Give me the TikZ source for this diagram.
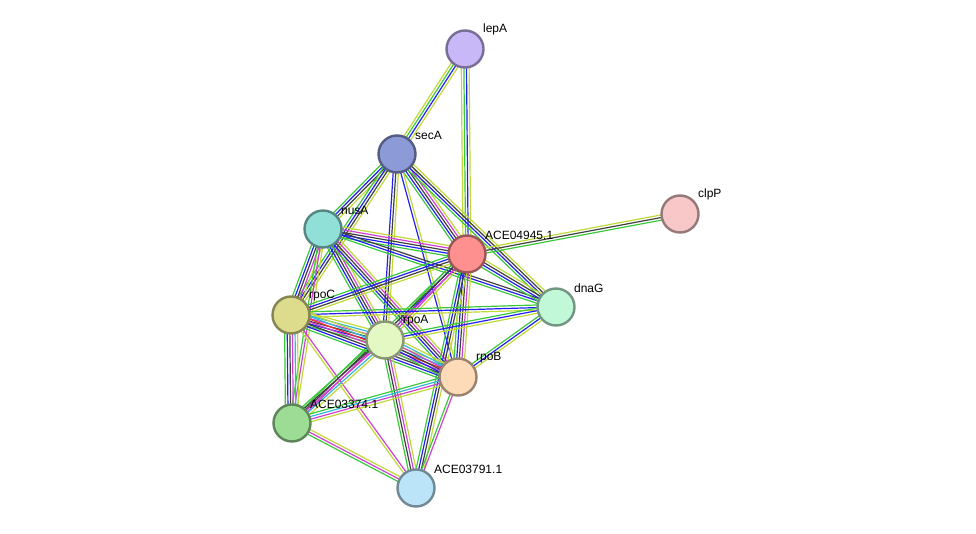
\documentclass[tikz,border=0pt]{standalone}
\usepackage{fontspec}
\setmainfont{Liberation Sans}
\usetikzlibrary{calc}
\definecolor{eG}{HTML}{3CC83C}
\definecolor{eB}{HTML}{2020F0}
\definecolor{eK}{HTML}{404040}
\definecolor{eM}{HTML}{D040D0}
\definecolor{eY}{HTML}{C0D838}
\definecolor{eC}{HTML}{30B8D8}
\definecolor{eR}{HTML}{F03030}
\tikzset{
  prot/.style={circle, minimum size=37pt, line width=2.4pt, draw=#1!60!black, fill=#1},
  lbl/.style={font=\fontsize{12}{14}\selectfont, anchor=south west, inner sep=1pt, xshift=3pt, yshift=-1pt}
}
% one edge = a bundle of parallel coloured lines
\newcommand\edge[3]{%
  \foreach \c [count=\n] in {#3}{\xdef\ncol{\n}}%
  \foreach \c [count=\i] in {#3}{%
    \pgfmathsetmacro\o{(\i-(\ncol+1)/2)*2.6}%
    \draw[e\c, line width=1.2pt] ($(#1)!\o pt!90:(#2)$) -- ($(#2)!\o pt!-90:(#1)$);
  }%
}
\begin{document}
\begin{tikzpicture}[x=1pt, y=-1pt]
    \useasboundingbox (0,0) rectangle (976,534);
    \coordinate (lepA) at (465,49);
    \coordinate (secA) at (397,154);
    \coordinate (nusA) at (323,229);
    \coordinate (ace45) at (467,254);
    \coordinate (clpP) at (680,214);
    \coordinate (dnaG) at (556,307);
    \coordinate (rpoC) at (291,315);
    \coordinate (rpoA) at (385,340);
    \coordinate (rpoB) at (458,377);
    \coordinate (ace74) at (292,423);
    \coordinate (ace91) at (416,488);
    \edge{lepA}{secA}{Y,G,B,Y}
    \edge{lepA}{ace45}{Y,G,B,Y}
    \edge{secA}{nusA}{G,B,K,Y}
    \edge{secA}{ace45}{G,B,K,M,Y}
    \edge{secA}{dnaG}{G,B,K,Y}
    \edge{secA}{rpoC}{G,B,K,Y}
    \edge{secA}{rpoA}{B,K,Y}
    \edge{secA}{rpoB}{B,Y}
    \edge{nusA}{ace45}{G,B,K,M,Y}
    \edge{nusA}{dnaG}{G,B,K}
    \edge{nusA}{rpoC}{G,B,K,M,Y}
    \edge{nusA}{rpoA}{G,B,K,M,Y}
    \edge{nusA}{rpoB}{G,B,K,M,Y}
    \edge{nusA}{ace74}{G,M,Y}
    \edge{ace45}{clpP}{G,K,Y}
    \edge{ace45}{dnaG}{G,B,K,Y}
    \edge{ace45}{rpoC}{G,B,K,Y}
    \edge{ace45}{rpoA}{G,B,M,Y}
    \edge{ace45}{rpoB}{G,B,K,M,Y}
    \edge{ace45}{ace91}{G,B,K,Y}
    \edge{ace45}{ace74}{G,K,M}
    \edge{dnaG}{rpoC}{G,B,Y}
    \edge{dnaG}{rpoA}{G,B,Y}
    \edge{dnaG}{rpoB}{G,B,Y}
    \edge{rpoC}{rpoA}{G,B,K,M,C,Y}
    \edge{rpoC}{rpoB}{G,B,K,M,R,C,Y}
    \edge{rpoC}{ace74}{G,B,K,M,C,Y}
    \edge{rpoC}{ace91}{Y,M}
    \edge{rpoA}{rpoB}{G,B,K,M,C,Y}
    \edge{rpoA}{ace74}{G,K,M,C,Y}
    \edge{rpoA}{ace91}{G,K,M,Y}
    \edge{rpoB}{ace74}{G,C,M,Y}
    \edge{rpoB}{ace91}{G,M}
    \edge{ace74}{ace91}{G,M,Y}
    % proteins
    \definecolor{cLep}{HTML}{C8B8F8}
    \definecolor{cSec}{HTML}{8C9AD8}
    \definecolor{cNus}{HTML}{90E0D8}
    \definecolor{cA45}{HTML}{FF9090}
    \definecolor{cClp}{HTML}{F8C8C8}
    \definecolor{cDna}{HTML}{C0F8D8}
    \definecolor{cRpC}{HTML}{DCDC8C}
    \definecolor{cRpA}{HTML}{E4F8C4}
    \definecolor{cRpB}{HTML}{FDDAB8}
    \definecolor{cA74}{HTML}{9CDC94}
    \definecolor{cA91}{HTML}{BCE4F8}
    \node[prot=cLep] (nlepA) at (lepA) {};
    \node[prot=cSec] (nsecA) at (secA) {};
    \node[prot=cNus] (nnusA) at (nusA) {};
    \node[prot=cA45] (nace45) at (ace45) {};
    \node[prot=cClp] (nclpP) at (clpP) {};
    \node[prot=cDna] (ndnaG) at (dnaG) {};
    \node[prot=cRpC] (nrpoC) at (rpoC) {};
    \node[prot=cRpA] (nrpoA) at (rpoA) {};
    \node[prot=cRpB] (nrpoB) at (rpoB) {};
    \node[prot=cA74] (nace74) at (ace74) {};
    \node[prot=cA91] (nace91) at (ace91) {};
    \node[lbl] at (nlepA.north east) {lepA};
    \node[lbl] at (nsecA.north east) {secA};
    \node[lbl] at (nnusA.north east) {nusA};
    \node[lbl] at (nace45.north east) {ACE04945.1};
    \node[lbl] at (nclpP.north east) {clpP};
    \node[lbl] at (ndnaG.north east) {dnaG};
    \node[lbl] at (nrpoC.north east) {rpoC};
    \node[lbl] at (nrpoA.north east) {rpoA};
    \node[lbl] at (nrpoB.north east) {rpoB};
    \node[lbl] at (nace74.north east) {ACE03374.1};
    \node[lbl] at (nace91.north east) {ACE03791.1};
\end{tikzpicture}
\end{document}
